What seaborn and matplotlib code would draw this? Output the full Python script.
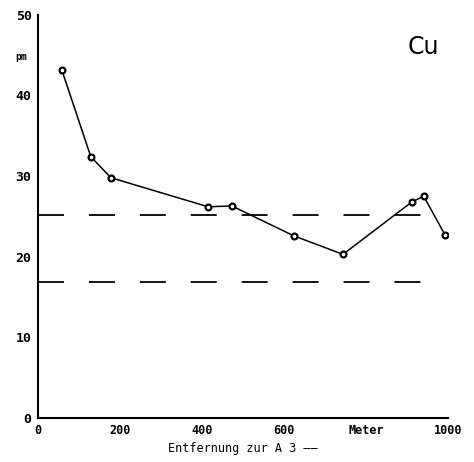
import matplotlib
matplotlib.use("Agg")
import matplotlib.pyplot as plt
import seaborn as sns
import pandas as pd

distance_m = [58, 129, 178, 415, 473, 624, 744, 912, 941, 993]
cu_ppm = [43.2, 32.4, 29.8, 26.2, 26.3, 22.6, 20.3, 26.8, 27.5, 22.7]
ref_levels = [25.2, 16.9]
x_ticks = [0, 200, 400, 600, 800, 1000]
x_tick_labels = ["0", "200", "400", "600", "Meter", "1000"]
y_ticks = [0, 10, 20, 30, 40, 50]

sns.set_theme(style="white")
plt.rcParams["font.family"] = ["DejaVu Sans Mono", "DejaVu Sans"]
plt.rcParams["text.color"] = "black"
plt.rcParams["axes.labelcolor"] = "black"

df = pd.DataFrame({"dist": distance_m, "cu": cu_ppm})

fig = plt.figure(figsize=(4.74, 4.62), dpi=100)
ax = fig.add_axes([0.080, 0.095, 0.865, 0.873])

for lvl in ref_levels:
    ax.plot([0, 950], [lvl, lvl], color="black", lw=1.3, dashes=(14.4, 13.8))

sns.lineplot(data=df, x="dist", y="cu", ax=ax, color="black", lw=1.1,
             marker="o", markersize=4.2, markerfacecolor="white",
             markeredgecolor="black", markeredgewidth=1.6)

ax.set_xlim(0, 1000)
ax.set_ylim(0, 50)
ax.set_xticks(x_ticks)
ax.set_xticklabels(x_tick_labels, fontsize=8.5, fontweight="bold")
ax.set_yticks(y_ticks)
ax.set_yticklabels([str(v) for v in y_ticks], fontsize=9.5, fontweight="bold")
ax.tick_params(axis="both", direction="inout", length=5, width=1, colors="black", pad=2)
for s in ["top", "right"]:
    ax.spines[s].set_visible(False)
for s in ["left", "bottom"]:
    ax.spines[s].set_color("black")
    ax.spines[s].set_linewidth(1.5)

ax.set_xlabel("Entfernung zur A 3 \u2014\u2014", fontsize=8.5, labelpad=3, color="black")
ax.set_ylabel("")
fig.text(15 / 474, 1 - 57 / 462, "pm", fontsize=7, fontweight="bold", ha="left",
         va="center", color="black")
ax.text(0.94, 0.92, "Cu", transform=ax.transAxes, fontsize=17, ha="center", va="center",
        family="DejaVu Sans", color="black")

fig.savefig("out.png", dpi=100)
